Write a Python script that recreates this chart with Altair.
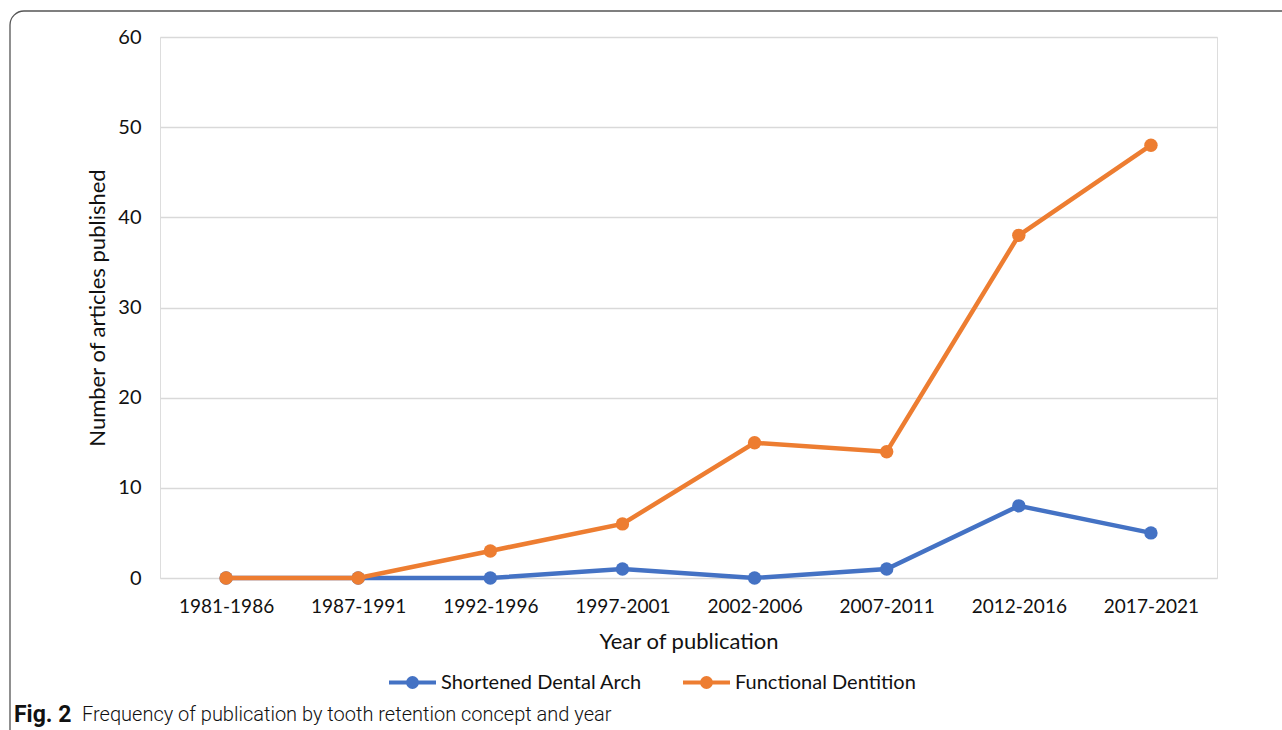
import altair as alt
import pandas as pd

periods = ["1981-1986", "1987-1991", "1992-1996", "1997-2001",
           "2002-2006", "2007-2011", "2012-2016", "2017-2021"]
sda = [0, 0, 0, 1, 0, 1, 8, 5]
fd = [0, 0, 3, 6, 15, 14, 38, 48]
series = ["Shortened Dental Arch", "Functional Dentition"]
colors = ["#4472C4", "#ED7D31"]
y_ticks = [0, 10, 20, 30, 40, 50, 60]
caption_bold = "Fig. 2"
caption_text = "Frequency of publication by tooth retention concept and year"

rows = []
for name, vals in zip(series, [sda, fd]):
    for p, v in zip(periods, vals):
        rows.append({"period": p, "count": v, "series": name})
df = pd.DataFrame(rows)

FONT = "Lato"
CAP_FONT = "Roboto"
W, H = 1057, 541

# legend symbol: line with a dot in the middle (stroke-based)
sym = ("M-1,0 H1 "
       "M-0.19,0 A0.19,0.19 0 1,1 0.19,0 A0.19,0.19 0 1,1 -0.19,0 "
       "M-0.07,0 A0.07,0.07 0 1,1 0.07,0 A0.07,0.07 0 1,1 -0.07,0")

x_enc = alt.X("period:N", sort=periods, scale=alt.Scale(type="point", padding=0.5),
              axis=alt.Axis(title="Year of publication", labelAngle=0, ticks=False,
                            domain=False, labelPadding=19, titlePadding=15,
                            labelFontSize=19, titleFontSize=22, labelColor="#111",
                            titleColor="#111", labelFont=FONT, titleFont=FONT,
                            titleFontWeight="normal"))
y_enc = alt.Y("count:Q", scale=alt.Scale(domain=[0, 60], nice=False),
              axis=alt.Axis(title="Number of articles published", values=y_ticks,
                            ticks=False, domain=False, labelPadding=19,
                            titlePadding=8, labelFontSize=20, titleFontSize=22,
                            labelColor="#111", titleColor="#111", labelFont=FONT,
                            titleFont=FONT, titleFontWeight="normal",
                            gridColor="#d9d9d9", gridWidth=1.5))
color_enc = alt.Color("series:N", scale=alt.Scale(domain=series, range=colors),
                      legend=alt.Legend(title=None, orient="none", direction="horizontal",
                                        legendX=227, legendY=620,
                                        symbolType=sym, symbolSize=2209,
                                        symbolStrokeWidth=4, labelFontSize=20,
                                        labelFont=FONT, labelColor="#111",
                                        labelLimit=400,
                                        labelOffset=3, columnPadding=33))

layers = []
for name in series:
    base = alt.Chart(df).transform_filter(alt.datum.series == name)
    layers.append(base.mark_line(strokeWidth=4.5).encode(x=x_enc, y=y_enc, color=color_enc))
    layers.append(base.mark_point(filled=True, size=180, opacity=1).encode(
        x=x_enc, y=y_enc, color=color_enc))

border = alt.Chart(pd.DataFrame({"b": [0]})).mark_rect(
    fill="transparent", stroke="#555", strokeWidth=1.3, cornerRadius=14).encode(
    x=alt.value(-150), x2=alt.value(1200), y=alt.value(-26), y2=alt.value(760))

cap1 = alt.Chart(pd.DataFrame({"t": [caption_bold]})).mark_text(
    align="left", baseline="middle", fontSize=23, fontWeight="bold",
    font=CAP_FONT, color="#111").encode(
    text="t:N", x=alt.value(-146), y=alt.value(678))
cap2 = alt.Chart(pd.DataFrame({"t": [caption_text]})).mark_text(
    align="left", baseline="middle", fontSize=20, fontWeight=300,
    font=CAP_FONT, color="#111").encode(
    text="t:N", x=alt.value(-78), y=alt.value(678))

chart = alt.layer(border, *layers, cap1, cap2).properties(
    width=W, height=H,
    autosize=alt.AutoSizeParams(type="none"),
    padding={"left": 160, "top": 37, "right": 65, "bottom": 152},
).configure_view(stroke=None).configure(background="white")

chart.save("out.html", embed_options={"renderer": "svg", "actions": False})
